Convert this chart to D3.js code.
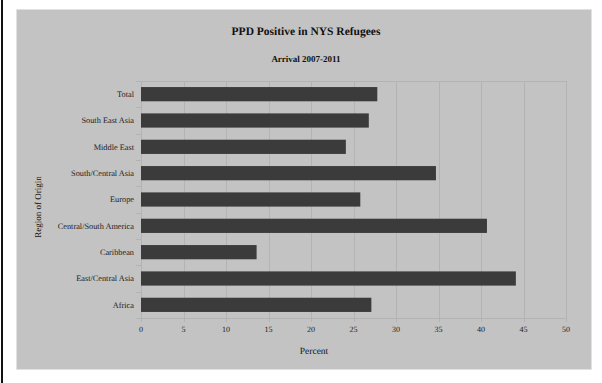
<!DOCTYPE html>
<html>
<head>
<meta charset="utf-8">
<script src="https://cdn.jsdelivr.net/npm/d3@7"></script>
<style>
  html, body { margin: 0; padding: 0; background: #fff; }
  svg { display: block; font-family: "Liberation Serif", "Times New Roman", serif; -webkit-font-smoothing: antialiased; }
  text { text-rendering: geometricPrecision; }
</style>
</head>
<body>
<svg id="chart" width="602" height="383"></svg>
<script>
// Regions of origin, bottom to top as listed on the axis
const regions = ["Africa", "East/Central Asia", "Caribbean", "Central/South America",
                 "Europe", "South/Central Asia", "Middle East", "South East Asia", "Total"];
// Percent PPD positive per region
const percents = [27.1, 44.1, 13.6, 40.7, 25.8, 34.7, 24.1, 26.8, 27.8];
// X axis ticks
const xTicks = [0, 5, 10, 15, 20, 25, 30, 35, 40, 45, 50];

const title = "PPD Positive in NYS Refugees";
const subtitle = "Arrival 2007-2011";
const xTitle = "Percent";
const yTitle = "Region of Origin";

const svg = d3.select("#chart");

// page edge line on the left
svg.append("rect").attr("x", 1).attr("y", 0).attr("width", 2).attr("height", 383).attr("fill", "#111");

// chart panel
svg.append("rect")
  .attr("x", 16.5).attr("y", 9.5).attr("width", 575).attr("height", 360)
  .attr("fill", "#c3c3c3").attr("stroke", "#e2e2e2").attr("stroke-width", 1);

const plot = { left: 141, right: 566, top: 81, bottom: 318 };

const x = d3.scaleLinear().domain([0, 50]).range([plot.left, plot.right]);
const y = d3.scaleBand()
  .domain(regions.slice().reverse())
  .range([plot.top, plot.bottom])
  .paddingInner(0.46).paddingOuter(0.23);

const gridColor = "#b3b3b3";

// vertical gridlines (extend slightly below the axis as tick marks)
svg.append("g").selectAll("line").data(xTicks).join("line")
  .attr("x1", d => Math.round(x(d)) + 0.5).attr("x2", d => Math.round(x(d)) + 0.5)
  .attr("y1", plot.top).attr("y2", plot.bottom + 4)
  .attr("stroke", gridColor).attr("stroke-width", 1);

// top border of plot
svg.append("line")
  .attr("x1", plot.left).attr("x2", plot.right)
  .attr("y1", plot.top + 0.5).attr("y2", plot.top + 0.5)
  .attr("stroke", gridColor);

// x axis line
svg.append("line")
  .attr("x1", plot.left).attr("x2", plot.right)
  .attr("y1", plot.bottom + 0.5).attr("y2", plot.bottom + 0.5)
  .attr("stroke", gridColor);

// y axis line and band boundary ticks
svg.append("line")
  .attr("x1", plot.left + 0.5).attr("x2", plot.left + 0.5)
  .attr("y1", plot.top).attr("y2", plot.bottom + 4)
  .attr("stroke", gridColor);
const bounds = d3.range(regions.length + 1).map(i => plot.top + i * (plot.bottom - plot.top) / regions.length);
svg.append("g").selectAll("line").data(bounds).join("line")
  .attr("x1", plot.left - 5).attr("x2", plot.left)
  .attr("y1", d => Math.round(d) + 0.5).attr("y2", d => Math.round(d) + 0.5)
  .attr("stroke", gridColor);

// bars
svg.append("g").selectAll("rect").data(regions).join("rect")
  .attr("x", x(0))
  .attr("y", d => y(d))
  .attr("width", (d, i) => x(percents[i]) - x(0))
  .attr("height", y.bandwidth())
  .attr("fill", "#3b3b3b");

// category labels
svg.append("g").selectAll("text").data(regions).join("text")
  .attr("x", 134)
  .attr("y", d => y(d) + y.bandwidth() / 2)
  .attr("dy", "0.35em")
  .attr("text-anchor", "end")
  .attr("font-size", 8.3)
  .attr("fill", "#222")
  .text(d => d);

// x tick labels
svg.append("g").selectAll("text").data(xTicks).join("text")
  .attr("x", d => x(d))
  .attr("y", 332)
  .attr("text-anchor", "middle")
  .attr("font-size", 8)
  .attr("fill", "#222")
  .text(d => d);

// titles
svg.append("text").attr("x", 306).attr("y", 35).attr("text-anchor", "middle")
  .attr("font-size", 11.5).attr("font-weight", "bold").attr("fill", "#111").text(title);
svg.append("text").attr("x", 306).attr("y", 62).attr("text-anchor", "middle")
  .attr("font-size", 9).attr("font-weight", "bold").attr("fill", "#111").text(subtitle);
svg.append("text").attr("x", 314).attr("y", 354).attr("text-anchor", "middle")
  .attr("font-size", 9.5).attr("fill", "#111").text(xTitle);
svg.append("text")
  .attr("transform", "translate(41,207) rotate(-90)")
  .attr("text-anchor", "middle")
  .attr("font-size", 9).attr("fill", "#111").text(yTitle);
</script>
</body>
</html>
